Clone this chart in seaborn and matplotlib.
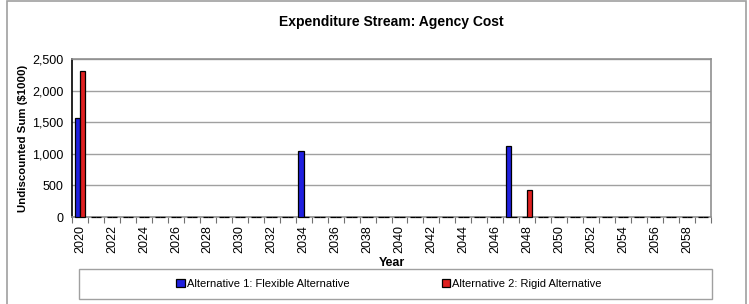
import numpy as np
import pandas as pd
import seaborn as sns
import matplotlib.pyplot as plt
from matplotlib.patches import Rectangle
from matplotlib.ticker import FuncFormatter

# data
years = list(range(2020, 2060))
alt1_years = [2020, 2034, 2047]
alt1_vals = [1570, 1040, 1130]
alt2_years = [2020, 2048]
alt2_vals = [2310, 430]
series_names = ["Alternative 1: Flexible Alternative", "Alternative 2: Rigid Alternative"]

alt1 = [alt1_vals[alt1_years.index(y)] if y in alt1_years else 0 for y in years]
alt2 = [alt2_vals[alt2_years.index(y)] if y in alt2_years else 0 for y in years]
df = pd.DataFrame({
    "Year": [str(y) for y in years] * 2,
    "Value": alt1 + alt2,
    "Series": [series_names[0]] * len(years) + [series_names[1]] * len(years),
})

sns.set_style("white")
plt.rcParams["font.family"] = ["Liberation Sans", "DejaVu Sans"]
plt.rcParams["text.color"] = "black"
plt.rcParams["axes.labelcolor"] = "black"
plt.rcParams["xtick.color"] = "black"
plt.rcParams["ytick.color"] = "black"

fig = plt.figure(figsize=(7.49, 3.04), dpi=100)
ax = fig.add_axes([72 / 749, 1 - 217 / 304, 639 / 749, 158 / 304])

sns.barplot(data=df, x="Year", y="Value", hue="Series",
            palette=["#0000ff", "#ff0000"], edgecolor="black", linewidth=0.9,
            width=0.65, ax=ax, legend=True)
for p in ax.patches:
    p.set_clip_on(False)
    p.set_zorder(3)

ax.set_xlim(-0.5, len(years) - 0.5)
ax.set_ylim(0, 2500)
ax.set_yticks(range(0, 2501, 500))
ax.yaxis.set_major_formatter(FuncFormatter(lambda v, p: f"{int(v):,}"))
ax.yaxis.grid(True, color="#a0a0a0", linewidth=1)
ax.set_axisbelow(True)

ax.set_xticks(range(0, len(years), 2))
ax.set_xticklabels([str(y) for y in years[::2]], rotation=90)
ax.set_xticks(np.arange(-0.5, len(years), 1), minor=True)
ax.tick_params(axis="x", which="major", length=0, labelsize=9, pad=6)
ax.tick_params(axis="x", which="minor", length=4, width=0.8, color="#707070", bottom=True)
ax.tick_params(axis="y", labelsize=9, length=0, pad=6)

ax.spines["left"].set_color("black")
ax.spines["left"].set_linewidth(1.2)
for s in ["top", "right", "bottom"]:
    ax.spines[s].set_color("#909090")
    ax.spines[s].set_linewidth(1.2)

ax.set_xlabel("Year", fontsize=9, fontweight="bold", labelpad=3)
ax.set_ylabel("Undiscounted Sum ($1000)", fontsize=8.2, fontweight="bold", labelpad=3)
fig.text(391 / 749, 1 - 22 / 304, "Expenditure Stream: Agency Cost",
         ha="center", va="center", fontsize=10, fontweight="bold")

handles, labels = ax.get_legend_handles_labels()
ax.get_legend().remove()
leg = fig.legend(handles, labels, loc="center",
                 bbox_to_anchor=(85 / 749, 1 - 299 / 304, 608 / 749, 30 / 304),
                 ncol=2, frameon=False, fontsize=8,
                 handlelength=0.75, handleheight=0.75, handletextpad=0.2,
                 columnspacing=8.3, borderaxespad=0)
# legend frame
fig.add_artist(Rectangle((79 / 749, 1 - 299 / 304), 633 / 749, 30 / 304,
                         transform=fig.transFigure, fill=False,
                         edgecolor="#a0a0a0", linewidth=1))

# outer chart border
fig.add_artist(Rectangle((7 / 749, -0.05), 739 / 749, 1.05 - 1 / 304,
                         transform=fig.transFigure, fill=False,
                         edgecolor="#a0a0a0", linewidth=1.2, clip_on=False))

fig.savefig("out.png", dpi=100)
